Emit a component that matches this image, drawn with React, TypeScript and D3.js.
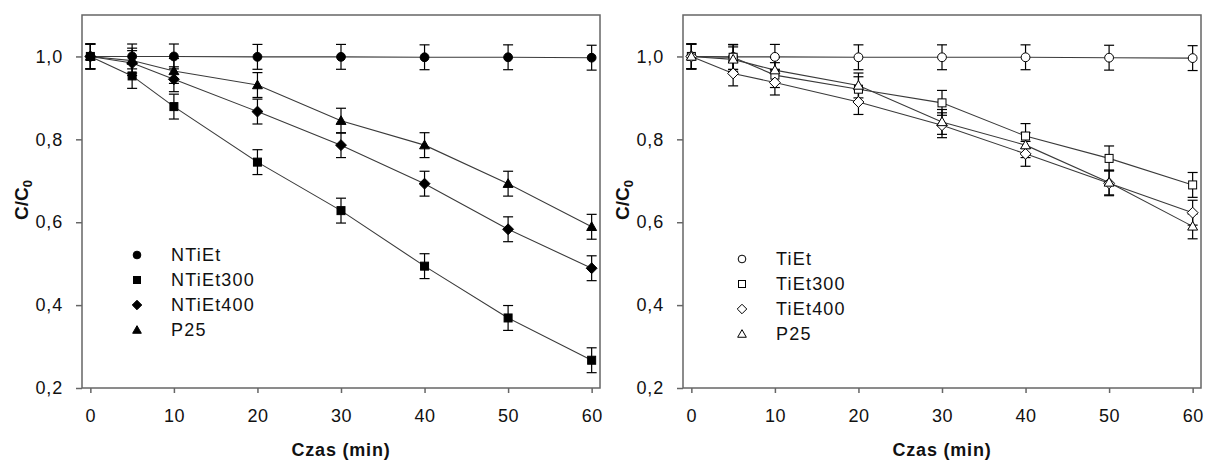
import React, { useEffect, useRef } from "react";
import * as d3 from "d3";

// sampling times (min)
const times = [0, 5, 10, 20, 30, 40, 50, 60];

// left panel: N-doped samples
const leftNames = ["NTiEt", "NTiEt300", "NTiEt400", "P25"];
const nTiEt = [1.0, 1.0, 1.0, 0.999, 0.999, 0.998, 0.998, 0.997];
const nTiEt300 = [1.0, 0.953, 0.879, 0.745, 0.628, 0.494, 0.369, 0.267];
const nTiEt400 = [1.0, 0.984, 0.945, 0.867, 0.786, 0.693, 0.583, 0.489];
const p25Left = [1.0, 0.99, 0.965, 0.931, 0.845, 0.786, 0.693, 0.589];

// right panel: undoped samples
const rightNames = ["TiEt", "TiEt300", "TiEt400", "P25"];
const tiEt = [1.0, 0.999, 0.999, 0.998, 0.998, 0.998, 0.997, 0.996];
const tiEt300 = [1.0, 0.998, 0.955, 0.921, 0.888, 0.808, 0.754, 0.69];
const tiEt400 = [1.0, 0.959, 0.937, 0.89, 0.834, 0.765, 0.694, 0.623];
const p25Right = [1.0, 0.993, 0.967, 0.93, 0.842, 0.786, 0.696, 0.59];

// error (± C/C0)
const errBar = [0.03, 0.03, 0.03, 0.03, 0.03, 0.03, 0.03, 0.03];

const xTicks = [0, 10, 20, 30, 40, 50, 60];
const yTicks = [0.2, 0.4, 0.6, 0.8, 1.0];

const shapes = ["circle", "square", "diamond", "triangle"];

function drawMarker(g, shape, x, y, filled, size) {
  const fill = filled ? "#000" : "#fff";
  const s = size;
  if (shape === "circle") {
    g.append("circle").attr("cx", x).attr("cy", y).attr("r", s * 0.55)
      .attr("fill", fill).attr("stroke", "#000").attr("stroke-width", 1);
  } else if (shape === "square") {
    g.append("rect").attr("x", x - s / 2).attr("y", y - s / 2)
      .attr("width", s).attr("height", s)
      .attr("fill", fill).attr("stroke", "#000").attr("stroke-width", 1);
  } else if (shape === "diamond") {
    const h = s * 0.68;
    g.append("path")
      .attr("d", `M${x},${y - h}L${x + h},${y}L${x},${y + h}L${x - h},${y}Z`)
      .attr("fill", fill).attr("stroke", "#000").attr("stroke-width", 1);
  } else {
    const h = s * 0.62;
    g.append("path")
      .attr("d", `M${x},${y - h}L${x + h},${y + h * 0.75}L${x - h},${y + h * 0.75}Z`)
      .attr("fill", fill).attr("stroke", "#000").attr("stroke-width", 1);
  }
}

function drawPanel(svg, opts) {
  const { left, right, names, series, filled, legendX, legendY } = opts;
  const top = 15;
  const bottom = 388;
  const font = "Arial, 'Liberation Sans', sans-serif";

  const x = d3.scaleLinear().domain([-1, 61]).range([left, right]);
  const y = d3.scaleLinear().domain([0.2, 1.1]).range([bottom, top]);

  const g = svg.append("g");

  // frame
  g.append("rect")
    .attr("x", left).attr("y", top)
    .attr("width", right - left).attr("height", bottom - top)
    .attr("fill", "none").attr("stroke", "#666").attr("stroke-width", 1.5);

  // x axis
  const xa = g.append("g")
    .attr("transform", `translate(0,${bottom})`)
    .call(d3.axisBottom(x).tickValues(xTicks).tickSize(5).tickPadding(16).tickFormat(d3.format("d")));
  xa.select(".domain").remove();
  xa.selectAll("line").attr("stroke", "#666").attr("stroke-width", 1.5);
  xa.selectAll("text").attr("font-family", font).attr("font-size", 18)
    .attr("letter-spacing", 0.5).attr("fill", "#111");

  // y axis
  const ya = g.append("g")
    .attr("transform", `translate(${left},0)`)
    .call(d3.axisLeft(y).tickValues(yTicks).tickSize(6).tickPadding(13)
      .tickFormat((d) => d3.format(".1f")(d).replace(".", ",")));
  ya.select(".domain").remove();
  ya.selectAll("line").attr("stroke", "#666").attr("stroke-width", 1.5);
  ya.selectAll("text").attr("font-family", font).attr("font-size", 18)
    .attr("letter-spacing", 0.8).attr("fill", "#111");

  // axis titles
  g.append("text")
    .attr("x", (left + right) / 2).attr("y", 456)
    .attr("text-anchor", "middle")
    .attr("font-family", font).attr("font-size", 18).attr("font-weight", "bold")
    .attr("letter-spacing", 0.8).attr("fill", "#111")
    .text("Czas (min)");

  const yl = g.append("text")
    .attr("transform", `translate(${left - 54},200) rotate(-90)`)
    .attr("text-anchor", "middle")
    .attr("font-family", font).attr("font-size", 19).attr("font-weight", "bold")
    .attr("fill", "#111");
  yl.append("tspan").text("C/C");
  yl.append("tspan").attr("font-size", 13).attr("dy", 4).text("0");

  const line = d3.line()
    .x((d, i) => x(times[i]))
    .y((d) => y(d));

  // lines
  series.forEach((vals) => {
    g.append("path")
      .datum(vals)
      .attr("fill", "none")
      .attr("stroke", "#3a3a3a")
      .attr("stroke-width", 1.1)
      .attr("d", line);
  });

  // error bars
  series.forEach((vals) => {
    vals.forEach((v, i) => {
      const cx = x(times[i]);
      const y0 = y(v - errBar[i]);
      const y1 = y(v + errBar[i]);
      g.append("line").attr("x1", cx).attr("x2", cx).attr("y1", y0).attr("y2", y1)
        .attr("stroke", "#000").attr("stroke-width", 1.2);
      [y0, y1].forEach((yy) => {
        g.append("line").attr("x1", cx - 5).attr("x2", cx + 5).attr("y1", yy).attr("y2", yy)
          .attr("stroke", "#000").attr("stroke-width", 1.2);
      });
    });
  });

  // markers
  series.forEach((vals, k) => {
    vals.forEach((v, i) => {
      drawMarker(g, shapes[k], x(times[i]), y(v), filled, 8);
    });
  });

  // legend
  names.forEach((name, k) => {
    const ly = legendY + k * 25;
    drawMarker(g, shapes[k], legendX, ly, filled, 7);
    g.append("text")
      .attr("x", legendX + 34).attr("y", ly + 6)
      .attr("font-family", font).attr("font-size", 18)
      .attr("letter-spacing", 1.2).attr("fill", "#111")
      .text(name);
  });
}

export default function App() {
  const ref = useRef(null);

  useEffect(() => {
    const svg = d3.select(ref.current);
    svg.selectAll("*").remove();

    drawPanel(svg, {
      left: 82,
      right: 600,
      names: leftNames,
      series: [nTiEt, nTiEt300, nTiEt400, p25Left],
      filled: true,
      legendX: 137,
      legendY: 255,
    });

    drawPanel(svg, {
      left: 683,
      right: 1201,
      names: rightNames,
      series: [tiEt, tiEt300, tiEt400, p25Right],
      filled: false,
      legendX: 742,
      legendY: 259,
    });
  }, []);

  return (
    <svg
      ref={ref}
      width={1207}
      height={463}
      style={{ position: "absolute", left: 0, top: 0, background: "#fff" }}
    />
  );
}
